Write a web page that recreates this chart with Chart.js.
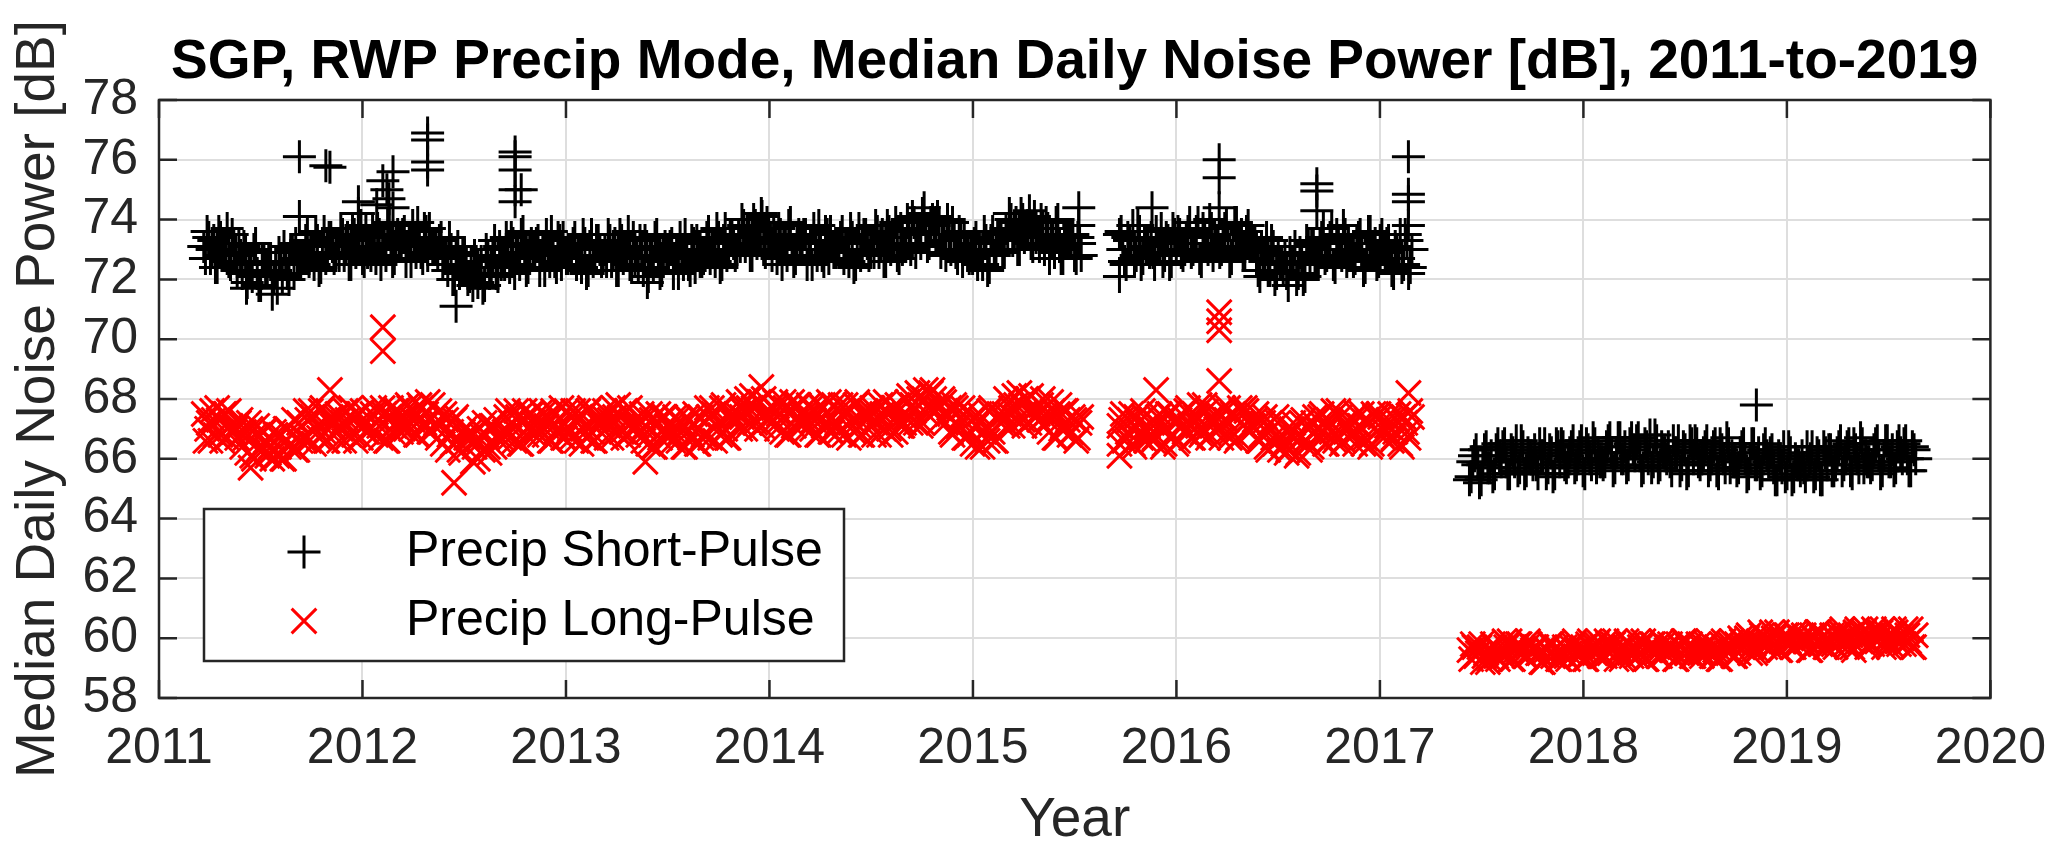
<!DOCTYPE html>
<html><head><meta charset="utf-8">
<script src="https://cdn.jsdelivr.net/npm/chart.js@4.4.0/dist/chart.umd.min.js"></script>
<style>html,body{margin:0;padding:0;background:#fff;}canvas{display:block;}</style>
</head><body>
<canvas id="c" width="2067" height="863" style="width:2067px;height:863px"></canvas>
<script>
// ---------------- DATA ----------------
const chartTitle = 'SGP, RWP Precip Mode, Median Daily Noise Power [dB], 2011-to-2019';
const xAxisTitle = 'Year';
const yAxisTitle = 'Median Daily Noise Power [dB]';
const seriesNames = ['Precip Short-Pulse', 'Precip Long-Pulse'];
const xTickLabels = ['2011','2012','2013','2014','2015','2016','2017','2018','2019','2020'];
const yTickLabels = ['58','60','62','64','66','68','70','72','74','76','78'];

// sampling interval of the daily record (days), offset of the second sample set,
// and segment start dates (decimal year)
const stepDays = 6;
const midOffsetDays = 3;
const seg1Start = 2011.22;
const seg2Start = 2015.72;
const seg3Start = 2017.44;

// ---- Precip Short-Pulse, samples on days 0, 6, 12, ...
const shortSeg1 = [
73.1,73.6,72.7,73.3,72.4,73.4,72.9,73.7,72.5,72.8,
72.3,72.8,73.1,71.9,72.5,73.0,72.2,71.8,72.6,72.3,
72.5,72.1,71.7,72.5,73.1,72.2,73.0,72.2,72.7,72.6,
72.8,73.5,73.1,72.5,73.3,72.4,73.6,72.9,73.4,72.7,
73.2,73.7,72.8,73.4,72.5,73.5,73.0,73.8,72.6,72.9,
72.8,73.4,73.7,72.5,73.2,73.8,73.0,72.7,73.5,73.3,
73.6,73.1,72.6,73.4,73.9,72.9,73.7,72.8,73.2,73.0,
72.8,73.4,72.9,72.3,73.0,72.0,73.1,72.4,72.8,72.0,
72.2,72.8,71.9,72.6,71.8,72.8,72.4,73.3,72.1,72.5,
72.5,73.1,73.4,72.2,72.9,73.5,72.7,72.4,73.2,73.0,
73.3,72.8,72.3,73.1,73.6,72.6,73.4,72.5,72.9,72.7,
72.7,73.4,73.0,72.4,73.2,72.3,73.5,72.8,73.3,72.6,
73.0,73.5,72.6,73.2,72.3,73.3,72.8,73.6,72.4,72.7,
72.4,73.0,73.3,72.1,72.8,73.4,72.6,72.3,73.1,72.9,
73.2,72.7,72.2,73.0,73.5,72.5,73.3,72.4,72.8,72.6,
72.9,73.6,73.2,72.6,73.4,72.5,73.7,73.0,73.5,72.8,
73.5,74.0,73.1,73.7,72.8,73.8,73.3,74.1,72.9,73.2,
72.8,73.4,73.7,72.5,73.2,73.8,73.0,72.7,73.5,73.3,
73.5,73.0,72.5,73.3,73.8,72.8,73.6,72.7,73.1,72.9,
72.9,73.6,73.2,72.6,73.4,72.5,73.7,73.0,73.5,72.8,
73.3,73.8,72.9,73.5,72.6,73.6,73.1,73.9,72.7,73.0,
73.1,73.7,74.1,72.9,73.6,74.2,73.5,73.2,74.0,73.9,
73.9,73.3,72.8,73.5,73.9,72.9,73.6,72.6,73.0,72.7,
72.7,73.4,73.0,72.5,73.3,72.4,73.6,73.0,73.5,72.9,
73.7,74.2,73.3,73.9,73.0,74.0,73.5,74.3,73.1,73.4,
73.1,73.7,73.9,72.7,73.3,73.9,73.1,72.7,73.5,73.2,73.5,72.7,73.2
];
// ---- Precip Short-Pulse, samples on days 3, 9, 15, ...
const shortSeg1b = [
72.7,73.4,73.0,72.4,73.6,72.8,73.2,72.6,73.5,72.9,
73.2,72.2,72.9,72.5,72.1,73.2,71.8,72.6,72.3,72.6,
71.5,72.3,72.9,72.1,72.6,72.0,73.0,73.2,72.5,72.7,
73.3,72.6,72.9,73.6,72.3,73.2,72.7,73.4,73.1,72.8,
72.8,73.5,73.1,72.5,73.7,72.9,73.3,72.7,73.6,73.0,
73.7,72.7,73.5,73.1,72.8,73.9,72.6,73.4,73.2,73.5,
72.6,73.3,73.8,72.9,73.4,72.7,73.6,73.7,73.0,73.1,
73.3,72.5,72.7,73.4,72.0,72.8,72.2,72.9,72.5,72.1,
71.8,72.6,72.2,71.7,73.0,72.2,72.7,72.2,73.1,72.6,
73.4,72.4,73.2,72.8,72.5,73.6,72.3,73.1,72.9,73.2,
72.3,73.0,73.5,72.6,73.1,72.4,73.3,73.4,72.7,72.8,
73.2,72.5,72.8,73.5,72.2,73.1,72.6,73.3,73.0,72.7,
72.6,73.3,72.9,72.3,73.5,72.7,73.1,72.5,73.4,72.8,
73.3,72.3,73.1,72.7,72.4,73.5,72.2,73.0,72.8,73.1,
72.2,72.9,73.4,72.5,73.0,72.3,73.2,73.3,72.6,72.7,
73.4,72.7,73.0,73.7,72.4,73.3,72.8,73.5,73.2,72.9,
73.1,73.8,73.4,72.8,74.0,73.2,73.6,73.0,73.9,73.3,
73.7,72.7,73.5,73.1,72.8,73.9,72.6,73.4,73.2,73.5,
72.5,73.2,73.7,72.8,73.3,72.6,73.5,73.6,72.9,73.0,
73.4,72.7,73.0,73.7,72.4,73.3,72.8,73.5,73.2,72.9,
72.9,73.6,73.2,72.6,73.8,73.0,73.4,72.8,73.7,73.1,
74.0,73.0,73.9,73.5,73.2,74.4,73.1,73.9,73.8,74.1,
72.9,73.5,74.0,73.0,73.4,72.7,73.5,73.5,72.8,72.8,
73.2,72.5,72.9,73.6,72.3,73.3,72.8,73.5,73.3,73.0,
73.3,74.0,73.6,73.0,74.2,73.4,73.8,73.2,74.1,73.5,
74.0,73.0,73.7,73.3,72.9,74.0,72.7,73.4,73.2,73.4,72.8,73.4,72.8
];
const shortSeg2 = [
73.5,73.0,72.5,73.3,73.8,72.8,73.6,72.7,73.1,72.9,
72.9,73.6,73.2,72.6,73.4,72.5,73.7,73.0,73.5,72.8,
73.4,73.9,73.0,73.6,72.7,73.7,73.2,74.0,72.8,73.1,
72.9,73.5,73.8,72.6,73.3,73.9,73.1,72.8,73.6,73.4,
73.2,72.7,72.1,72.9,73.4,72.3,73.1,72.2,72.5,72.3,
72.2,72.9,72.6,72.0,72.9,72.0,73.3,72.6,73.2,72.5,
73.2,73.7,72.8,73.4,72.5,73.5,73.0,73.8,72.6,72.9,
72.6,73.2,73.5,72.3,73.0,73.6,72.8,72.5,73.3,73.1,
73.2,72.7,72.2,73.0,73.5,72.5,73.3,72.4
];
const shortSeg2b = [
73.6,72.6,73.4,73.0,72.7,73.8,72.5,73.3,73.1,73.4,
72.5,73.2,73.7,72.8,73.3,72.6,73.5,73.6,72.9,73.0,
73.6,72.9,73.2,73.9,72.6,73.5,73.0,73.7,73.4,73.1,
73.0,73.7,73.3,72.7,73.9,73.1,73.5,72.9,73.8,73.2,
73.3,72.3,73.0,72.6,72.3,73.3,72.0,72.8,72.5,72.8,
71.8,72.5,73.1,72.2,72.8,72.1,73.1,73.2,72.6,72.7,
73.4,72.7,73.0,73.7,72.4,73.3,72.8,73.5,73.2,72.9,
72.7,73.4,73.0,72.4,73.6,72.8,73.2,72.6,73.5,72.9,
73.3,72.3,73.1,72.7,72.4,73.5,72.2,73.0
];
const shortSeg3 = [
65.3,65.9,66.3,65.2,65.8,66.4,65.7,65.4,66.3,66.1,
66.4,65.9,65.5,66.2,66.6,65.7,66.4,65.6,66.0,65.8,
65.8,66.5,66.1,65.5,66.3,65.4,66.5,65.9,66.4,65.7,
66.2,66.6,65.8,66.4,65.6,66.5,66.0,66.7,65.7,65.9,
65.8,66.4,66.7,65.6,66.2,66.7,66.0,65.7,66.5,66.3,
66.6,66.1,65.7,66.4,66.8,65.9,66.6,65.8,66.2,66.0,
65.9,66.6,66.2,65.6,66.4,65.5,66.6,66.0,66.5,65.8,
66.2,66.6,65.8,66.4,65.6,66.5,66.0,66.7,65.7,65.9,
65.6,66.2,66.5,65.4,66.0,66.5,65.8,65.5,66.3,66.1,
66.2,65.7,65.3,66.0,66.4,65.5,66.2,65.4,65.8,65.6,
65.7,66.4,66.0,65.4,66.2,65.3,66.4,65.8,66.3,65.6,
66.2,66.6,65.8,66.4,65.6,66.5,66.0,66.7,65.7,65.9,
65.7,66.3,66.6,65.5,66.1,66.6,65.9,65.6,66.4,66.2,
66.5,66.0,65.6,66.3
];
const shortSeg3b = [
65.4,66.1,65.8,65.3,66.3,65.7,66.1,65.5,66.5,65.9,
66.5,65.5,66.3,65.9,65.6,66.6,65.5,66.2,66.0,66.3,
65.5,66.1,66.5,65.7,66.2,65.5,66.4,66.5,65.8,65.9,
66.4,65.7,66.0,66.6,65.5,66.3,65.8,66.5,66.2,65.9,
65.9,66.6,66.2,65.7,66.7,66.0,66.4,65.8,66.7,66.1,
66.7,65.6,66.5,66.0,65.7,66.8,65.7,66.4,66.2,66.4,
65.6,66.2,66.6,65.8,66.3,65.6,66.5,66.6,65.9,66.0,
66.4,65.6,66.0,66.5,65.5,66.3,65.7,66.5,66.1,65.9,
65.7,66.4,66.0,65.5,66.5,65.8,66.2,65.6,66.5,65.9,
66.3,65.3,66.1,65.7,65.4,66.4,65.3,66.0,65.8,66.1,
65.4,65.9,66.4,65.5,66.1,65.3,66.2,66.3,65.6,65.8,
66.4,65.6,66.0,66.5,65.5,66.3,65.7,66.5,66.1,65.9,
65.8,66.5,66.1,65.6,66.6,65.9,66.3,65.7,66.6,66.0,
66.6,65.6,66.4,66.0
];

// ---- Precip Long-Pulse
const longSeg1 = [
67.5,67.0,66.6,67.3,67.7,66.8,67.5,66.7,67.1,66.9,
66.7,67.3,66.9,66.2,67.0,66.0,67.1,66.4,66.9,66.1,
66.4,66.9,66.1,66.8,66.0,67.0,66.5,67.3,66.3,66.6,
66.7,67.3,67.6,66.5,67.1,67.6,66.9,66.6,67.4,67.2,
67.5,67.0,66.6,67.3,67.7,66.8,67.5,66.7,67.1,66.9,
67.0,67.7,67.3,66.7,67.5,66.6,67.7,67.1,67.6,66.9,
67.4,67.8,67.0,67.6,66.8,67.7,67.2,67.9,66.9,67.1,
66.7,67.2,67.5,66.3,66.9,67.3,66.6,66.2,67.0,66.7,
66.8,66.4,66.0,66.8,67.2,66.4,67.1,66.4,66.8,66.7,
66.9,67.6,67.2,66.6,67.4,66.5,67.6,67.0,67.5,66.8,
67.2,67.6,66.8,67.4,66.6,67.5,67.0,67.7,66.7,66.9,
66.7,67.3,67.6,66.5,67.1,67.6,66.9,66.6,67.4,67.2,
67.6,67.1,66.7,67.4,67.8,66.9,67.6,66.8,67.2,67.0,
66.8,67.5,67.1,66.5,67.3,66.4,67.5,66.9,67.4,66.7,
67.0,67.4,66.6,67.2,66.4,67.3,66.8,67.5,66.5,66.7,
66.8,67.4,67.7,66.6,67.2,67.7,67.0,66.7,67.5,67.3,
67.9,67.4,67.0,67.7,68.1,67.2,67.9,67.1,67.5,67.3,
67.2,67.9,67.5,66.9,67.7,66.8,67.9,67.3,67.8,67.1,
67.4,67.8,67.0,67.6,66.8,67.7,67.2,67.9,66.9,67.1,
66.9,67.5,67.8,66.7,67.3,67.8,67.1,66.8,67.6,67.4,
67.7,67.2,66.8,67.5,67.9,67.0,67.7,66.9,67.3,67.1,
67.4,68.1,67.8,67.2,68.0,67.2,68.3,67.7,68.3,67.6,
67.7,68.0,67.2,67.7,66.8,67.7,67.1,67.7,66.7,66.8,
66.5,67.1,67.5,66.4,67.0,67.6,66.9,66.6,67.5,67.3,
68.0,67.5,67.1,67.8,68.2,67.3,68.0,67.2,67.6,67.4,
67.3,68.0,67.5,66.9,67.6,66.7,67.8,67.1,67.6,66.8,67.4,66.6,67.2
];
const longSeg1b = [
66.6,67.2,67.6,66.8,67.3,66.6,67.5,67.6,66.9,67.0,
67.2,66.4,66.7,67.2,66.1,66.8,66.3,66.9,66.6,66.2,
66.0,66.8,66.4,66.0,67.0,66.4,66.8,66.3,67.2,66.7,
67.6,66.6,67.4,67.0,66.7,67.7,66.6,67.3,67.1,67.4,
66.6,67.2,67.6,66.8,67.3,66.6,67.5,67.6,66.9,67.0,
67.5,66.8,67.1,67.7,66.6,67.4,66.9,67.6,67.3,67.0,
67.0,67.7,67.3,66.8,67.8,67.1,67.5,66.9,67.8,67.2,
67.6,66.5,67.3,66.8,66.5,67.4,66.3,66.9,66.7,66.9,
65.9,66.6,67.0,66.3,66.8,66.2,67.1,67.3,66.6,66.8,
67.4,66.7,67.0,67.6,66.5,67.3,66.8,67.5,67.2,66.9,
66.8,67.5,67.1,66.6,67.6,66.9,67.3,66.7,67.6,67.0,
67.6,66.6,67.4,67.0,66.7,67.7,66.6,67.3,67.1,67.4,
66.7,67.3,67.7,66.9,67.4,66.7,67.6,67.7,67.0,67.1,
67.3,66.6,66.9,67.5,66.4,67.2,66.7,67.4,67.1,66.8,
66.6,67.3,66.9,66.4,67.4,66.7,67.1,66.5,67.4,66.8,
67.7,66.7,67.5,67.1,66.8,67.8,66.7,67.4,67.2,67.5,
67.0,67.6,68.0,67.2,67.7,67.0,67.9,68.0,67.3,67.4,
67.7,67.0,67.3,67.9,66.8,67.6,67.1,67.8,67.5,67.2,
67.0,67.7,67.3,66.8,67.8,67.1,67.5,66.9,67.8,67.2,
67.8,66.8,67.6,67.2,66.9,67.9,66.8,67.5,67.3,67.6,
66.8,67.4,67.8,67.0,67.5,66.8,67.7,67.8,67.1,67.2,
67.9,67.2,67.6,68.2,67.1,68.0,67.5,68.2,68.0,67.7,
67.3,67.9,67.5,66.9,67.8,67.1,67.4,66.7,67.6,66.9,
67.4,66.4,67.3,66.9,66.6,67.7,66.6,67.3,67.2,67.5,
67.1,67.7,68.1,67.3,67.8,67.1,68.0,68.1,67.4,67.5,
67.8,67.1,67.3,67.9,66.7,67.5,67.0,67.6,67.3,66.9,67.3,66.7,67.4
];
const longSeg2 = [
67.1,67.5,66.7,67.3,66.5,67.4,66.9,67.6,66.6,66.8,
66.6,67.2,67.5,66.4,67.0,67.5,66.8,66.5,67.3,67.1,
67.6,67.1,66.7,67.4,67.8,66.9,67.6,66.8,67.2,67.0,
67.0,67.7,67.3,66.7,67.5,66.6,67.7,67.1,67.6,66.9,
67.1,67.5,66.6,67.2,66.4,67.2,66.7,67.4,66.3,66.5,
66.2,66.8,67.2,66.1,66.7,67.3,66.6,66.3,67.2,67.0,
67.4,66.9,66.5,67.2,67.6,66.7,67.4,66.6,67.0,66.8,
66.8,67.5,67.1,66.5,67.3,66.4,67.5,66.9,67.4,66.7,
67.1,67.5,66.7,67.3,66.5,67.4,66.9,67.6
];
const longSeg2b = [
67.3,66.6,66.9,67.5,66.4,67.2,66.7,67.4,67.1,66.8,
66.7,67.4,67.0,66.5,67.5,66.8,67.2,66.6,67.5,66.9,
67.7,66.7,67.5,67.1,66.8,67.8,66.7,67.4,67.2,67.5,
66.7,67.3,67.7,66.9,67.4,66.7,67.6,67.7,67.0,67.1,
67.3,66.6,66.8,67.4,66.3,67.0,66.5,67.2,66.8,66.5,
66.3,67.0,66.7,66.2,67.2,66.6,67.0,66.4,67.4,66.8,
67.5,66.5,67.3,66.9,66.6,67.6,66.5,67.2,67.0,67.3,
66.5,67.1,67.5,66.7,67.2,66.5,67.4,67.5,66.8,66.9,
67.3,66.6,66.9,67.5,66.4,67.2,66.7,67.4
];
const longSeg3 = [
59.6,59.8,59.4,59.7,59.2,59.5,59.3,59.8,59.4,59.6,
59.4,59.7,59.9,59.3,59.6,59.8,59.5,59.4,59.8,59.6,
59.7,59.5,59.2,59.6,59.8,59.4,59.7,59.3,59.5,59.4,
59.5,59.8,59.6,59.4,59.7,59.3,59.9,59.6,59.8,59.4,
59.7,59.9,59.5,59.8,59.3,59.6,59.4,59.9,59.5,59.7,
59.4,59.7,59.9,59.3,59.6,59.8,59.5,59.4,59.8,59.6,
59.8,59.6,59.3,59.7,59.9,59.5,59.8,59.4,59.6,59.5,
59.5,59.8,59.6,59.4,59.7,59.3,59.9,59.6,59.8,59.4,
59.8,60.0,59.7,60.0,59.5,59.8,59.6,60.2,59.8,60.0,
59.7,60.0,60.2,59.6,59.9,60.1,59.8,59.7,60.1,59.9,
60.1,59.9,59.6,60.0,60.2,59.8,60.1,59.7,59.9,59.8,
59.9,60.2,60.0,59.7,60.1,59.6,60.3,59.9,60.2,59.7,
60.1,60.3,59.9,60.2,59.7,60.0,59.8,60.3,59.9,60.1,
59.8,60.1,60.3,59.7
];
const longSeg3b = [
59.3,59.7,59.5,59.8,59.4,59.2,59.6,59.7,59.3,59.5,
59.9,59.5,59.3,59.7,59.8,59.6,59.4,59.9,59.5,59.7,
59.5,59.2,59.7,59.4,59.8,59.6,59.3,59.5,59.7,59.3,
59.7,59.9,59.4,59.6,59.3,59.8,59.7,59.5,59.9,59.4,
59.4,59.8,59.6,59.9,59.5,59.3,59.7,59.8,59.4,59.6,
59.9,59.5,59.3,59.7,59.8,59.6,59.4,59.9,59.5,59.7,
59.6,59.3,59.8,59.5,59.9,59.7,59.4,59.6,59.8,59.4,
59.7,59.9,59.4,59.6,59.3,59.8,59.7,59.5,59.9,59.4,
59.5,59.9,59.8,60.1,59.7,59.5,59.9,60.1,59.7,59.9,
60.2,59.8,59.6,60.0,60.1,59.9,59.7,60.2,59.8,60.0,
59.9,59.6,60.1,59.8,60.2,60.0,59.7,59.9,60.1,59.7,
60.1,60.3,59.8,60.0,59.7,60.2,60.1,59.9,60.3,59.8,
59.8,60.2,60.0,60.3,59.9,59.7,60.1,60.2,59.8,60.0,
60.3,59.9,59.7,60.1
];

// isolated days well outside the band: [decimal year, dB]
const shortOutliers = [
[2011.43,71.7],[2011.69,76.1],[2011.69,74.1],[2011.82,75.8],[2011.84,75.75],
[2011.98,74.6],[2011.98,74.2],[2012.07,74.5],[2012.10,75.3],[2012.12,75.0],
[2012.13,74.7],[2012.15,75.6],[2012.15,74.4],[2012.32,76.9],[2012.32,76.66],
[2012.32,75.93],[2012.32,75.66],[2012.46,71.1],[2012.75,76.26],[2012.75,76.1],
[2012.75,75.66],[2012.75,75.0],[2012.75,74.6],[2012.78,75.0],[2013.40,71.9],
[2013.96,74.2],[2015.52,74.4],[2015.52,73.8],[2015.72,72.1],[2015.88,74.4],
[2016.21,76.0],[2016.21,75.4],[2016.21,74.4],[2016.69,75.2],[2016.69,74.96],
[2016.69,74.3],[2017.14,76.1],[2017.14,74.85],[2017.14,74.6],[2017.14,73.8],
[2018.85,67.8]
];
const longOutliers = [
[2011.45,65.7],[2011.84,68.3],[2012.10,70.4],[2012.10,69.6],[2012.45,65.2],
[2013.39,65.9],[2013.96,68.4],[2015.72,66.5],[2015.72,66.1],[2015.90,68.3],
[2016.21,70.9],[2016.21,70.6],[2016.21,70.3],[2016.21,68.6],[2017.14,68.2]
];

// ---------------- BUILD ----------------
const off = midOffsetDays / 365.25;
function segPoints(start, vals) {
  return vals.map((v, i) => ({x: start + i * stepDays / 365.25, y: v}));
}
function pairPoints(arr) { return arr.map(p => ({x: p[0], y: p[1]})); }

const shortPts = [].concat(
  segPoints(seg1Start, shortSeg1), segPoints(seg1Start + off, shortSeg1b),
  segPoints(seg2Start, shortSeg2), segPoints(seg2Start + off, shortSeg2b),
  segPoints(seg3Start, shortSeg3), segPoints(seg3Start + off, shortSeg3b),
  pairPoints(shortOutliers));
const longPts = [].concat(
  segPoints(seg1Start, longSeg1), segPoints(seg1Start + off, longSeg1b),
  segPoints(seg2Start, longSeg2), segPoints(seg2Start + off, longSeg2b),
  segPoints(seg3Start, longSeg3), segPoints(seg3Start + off, longSeg3b),
  pairPoints(longOutliers));

const FONT = "'Liberation Sans', Arial, Helvetica, sans-serif";
const AXIS_COLOR = '#262626';

const styles = [
  {color: '#000000', pointStyle: 'cross', radius: 16.5},
  {color: '#ff0000', pointStyle: 'crossRot', radius: 17.5}
];

const framePlugin = {
  id: 'framePlugin',
  afterDatasetsDraw(chart) {
    const {ctx, chartArea: a, scales} = chart;
    const xs = scales.x, ys = scales.y;
    ctx.save();
    ctx.strokeStyle = AXIS_COLOR;
    ctx.lineWidth = 2.5;
    const tl = 18;
    ctx.beginPath();
    xTickLabels.forEach(t => {
      const px = xs.getPixelForValue(Number(t));
      ctx.moveTo(px, a.bottom); ctx.lineTo(px, a.bottom - tl);
      ctx.moveTo(px, a.top); ctx.lineTo(px, a.top + tl);
    });
    yTickLabels.forEach(t => {
      const py = ys.getPixelForValue(Number(t));
      ctx.moveTo(a.left, py); ctx.lineTo(a.left + tl, py);
      ctx.moveTo(a.right, py); ctx.lineTo(a.right - tl, py);
    });
    ctx.stroke();
    ctx.strokeRect(a.left, a.top, a.right - a.left, a.bottom - a.top);

    // legend box
    const lx = 204, ly = 509, lw = 640, lh = 152;
    ctx.fillStyle = '#ffffff';
    ctx.fillRect(lx, ly, lw, lh);
    ctx.strokeStyle = AXIS_COLOR;
    ctx.lineWidth = 2.5;
    ctx.strokeRect(lx, ly, lw, lh);
    const rowsY = [552, 621];
    seriesNames.forEach((name, i) => {
      const s = styles[i];
      ctx.strokeStyle = s.color;
      ctx.fillStyle = s.color;
      ctx.lineWidth = 3;
      Chart.helpers.drawPoint(ctx, {pointStyle: s.pointStyle, radius: s.radius, rotation: 0, borderWidth: 3}, 304, rowsY[i]);
      ctx.fillStyle = '#000000';
      ctx.font = '50px ' + FONT;
      ctx.textAlign = 'left';
      ctx.textBaseline = 'middle';
      ctx.fillText(name, 406, rowsY[i]);
    });

    // chart title
    ctx.fillStyle = '#000000';
    ctx.font = 'bold 55px ' + FONT;
    ctx.textAlign = 'center';
    ctx.textBaseline = 'alphabetic';
    ctx.fillText(chartTitle, (a.left + a.right) / 2, 78);
    ctx.restore();
  }
};

new Chart(document.getElementById('c'), {
  type: 'scatter',
  data: {
    datasets: [
      {label: seriesNames[0], data: shortPts, showLine: false,
       pointStyle: styles[0].pointStyle, pointRadius: styles[0].radius,
       borderColor: styles[0].color, backgroundColor: styles[0].color, borderWidth: 3},
      {label: seriesNames[1], data: longPts, showLine: false,
       pointStyle: styles[1].pointStyle, pointRadius: styles[1].radius,
       borderColor: styles[1].color, backgroundColor: styles[1].color, borderWidth: 3}
    ]
  },
  options: {
    responsive: false,
    devicePixelRatio: 1,
    animation: false,
    events: [],
    layout: {padding: {top: 100, left: 0, right: 75, bottom: 0}},
    plugins: {legend: {display: false}, title: {display: false}, tooltip: {enabled: false}},
    scales: {
      x: {
        type: 'linear', min: 2011, max: 2020,
        afterFit(s) { s.height = 165; },
        afterBuildTicks(s) { s.ticks = xTickLabels.map(t => ({value: Number(t)})); },
        ticks: {autoSkip: false, maxRotation: 0, padding: 21, color: AXIS_COLOR,
                font: {family: FONT, size: 50},
                callback: (v, i) => xTickLabels[i]},
        grid: {color: '#dedede', lineWidth: 2, drawTicks: false},
        border: {display: false},
        title: {display: true, text: xAxisTitle, color: AXIS_COLOR,
                font: {family: FONT, size: 55}, padding: {top: 0, bottom: 9}}
      },
      y: {
        type: 'linear', min: 58, max: 78,
        afterFit(s) { s.width = 159; },
        afterBuildTicks(s) { s.ticks = yTickLabels.map(t => ({value: Number(t)})); },
        ticks: {autoSkip: false, padding: 21, color: AXIS_COLOR,
                font: {family: FONT, size: 50},
                callback: (v, i) => yTickLabels[i]},
        grid: {color: '#dedede', lineWidth: 2, drawTicks: false},
        border: {display: false},
        title: {display: true, text: yAxisTitle, color: AXIS_COLOR,
                font: {family: FONT, size: 55}, padding: {top: 6, bottom: 0}}
      }
    }
  },
  plugins: [framePlugin]
});
</script>
</body></html>
